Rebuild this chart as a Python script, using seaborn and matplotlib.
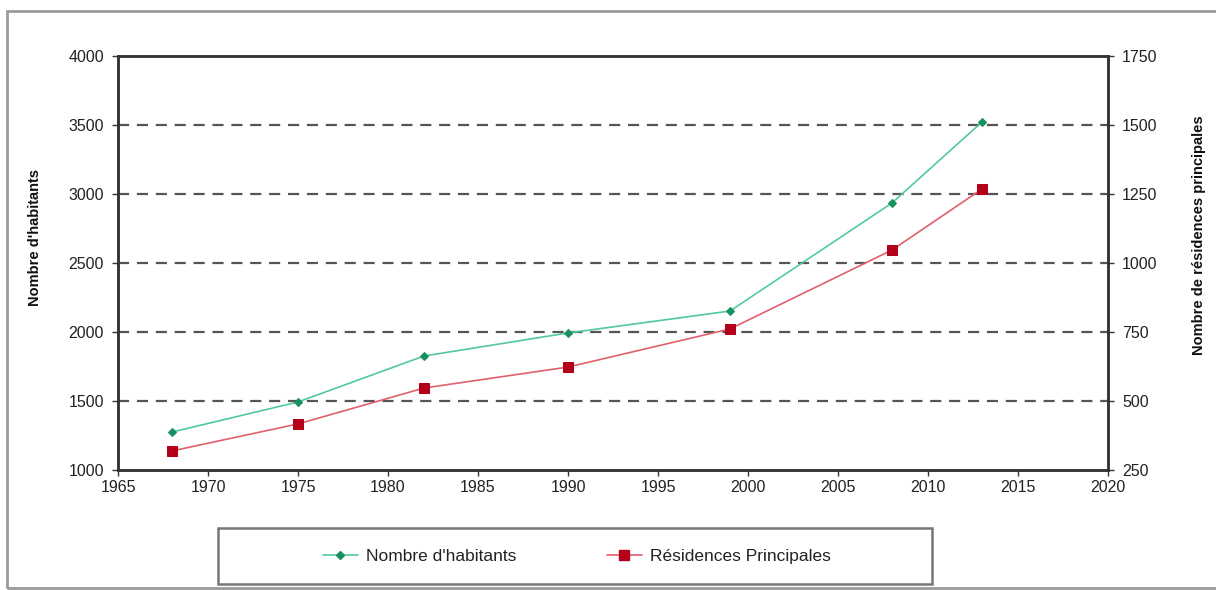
import matplotlib
matplotlib.use("Agg")
import matplotlib.pyplot as plt
from matplotlib.patches import Rectangle
from matplotlib.lines import Line2D
import seaborn as sns
import pandas as pd

# Census years and values
years = [1968, 1975, 1982, 1990, 1999, 2008, 2013]
habitants = [1275, 1493, 1826, 1993, 2152, 2935, 3522]
residences = [319, 417, 547, 623, 761, 1047, 1268]

x_ticks = [1965, 1970, 1975, 1980, 1985, 1990, 1995, 2000, 2005, 2010, 2015, 2020]
left_ticks = [1000, 1500, 2000, 2500, 3000, 3500, 4000]
right_ticks = [250, 500, 750, 1000, 1250, 1500, 1750]

df = pd.DataFrame({"annee": years, "habitants": habitants, "residences": residences})

sns.set_theme(style="white")
plt.rcParams["font.family"] = ["Liberation Sans", "DejaVu Sans"]

fig = plt.figure(figsize=(12.16, 5.9), dpi=100)
ax = fig.add_axes([118 / 1216, 1 - 470 / 590, 990 / 1216, 414 / 590])
ax2 = ax.twinx()

green_line = "#52c99a"
green_mark = "#17915f"
red_line = "#e0606c"
red_mark = "#b3001b"

# Horizontal dashed gridlines
for v in left_ticks[1:-1]:
    ax.axhline(v, color="#555555", lw=1.6, ls=(0, (5, 3.5)), zorder=1)

sns.lineplot(data=df, x="annee", y="habitants", ax=ax, color=green_line, lw=1.2,
             marker="D", markersize=4.2, markerfacecolor=green_mark,
             markeredgecolor=green_mark, zorder=3)
sns.lineplot(data=df, x="annee", y="residences", ax=ax2, color=red_line, lw=1.2,
             marker="s", markersize=7.5, markerfacecolor=red_mark,
             markeredgecolor=red_mark, zorder=3)

ax.set_xlim(1965, 2020)
ax.set_ylim(1000, 4000)
ax2.set_ylim(250, 1750)
ax.set_xticks(x_ticks)
ax.set_yticks(left_ticks)
ax2.set_yticks(right_ticks)

for a in (ax, ax2):
    for s in a.spines.values():
        s.set_color("#333333")
        s.set_linewidth(1.8)
    a.tick_params(labelsize=11.5, labelcolor="#222222", length=4, width=1, color="#333333")

ax.tick_params(axis="x", direction="out", bottom=True, pad=3)
ax.tick_params(axis="y", direction="out", left=True, pad=6)
ax2.tick_params(axis="y", direction="out", right=True, pad=6)

ax.set_xlabel("")
ax.set_ylabel("Nombre d'habitants", fontsize=10.5, fontweight="bold", color="#111111")
ax2.set_ylabel("Nombre de résidences principales", fontsize=10.5, fontweight="bold",
               color="#111111")
ax.yaxis.set_label_coords((42 - 118) / 990, (470 - 238) / 414)
ax2.yaxis.set_label_coords((1192 - 118) / 990, (470 - 235) / 414)

# Outer frame of the chart area
fig.patches.append(Rectangle((7 / 1216, 1 - 588 / 590), 1.2, (588 - 11) / 590,
                             transform=fig.transFigure, fill=False,
                             edgecolor="#9a9a9a", lw=2))

# Legend box below the plot
fig.patches.append(Rectangle((218 / 1216, 1 - 584 / 590), (932 - 218) / 1216, 56 / 590,
                             transform=fig.transFigure, fill=False,
                             edgecolor="#777777", lw=1.8))
handles = [
    Line2D([], [], color=green_line, lw=1.2, marker="D", markersize=4.2,
           markerfacecolor=green_mark, markeredgecolor=green_mark),
    Line2D([], [], color=red_line, lw=1.2, marker="s", markersize=7.5,
           markerfacecolor=red_mark, markeredgecolor=red_mark),
]
fig.legend(handles, ["Nombre d'habitants", "Résidences Principales"],
           loc="center", bbox_to_anchor=(577 / 1216, 1 - 556 / 590), ncol=2,
           frameon=False, fontsize=12.5, handlelength=2.0, handletextpad=0.5,
           columnspacing=5.2, labelcolor="#222222")

fig.savefig("out.png", dpi=100)
